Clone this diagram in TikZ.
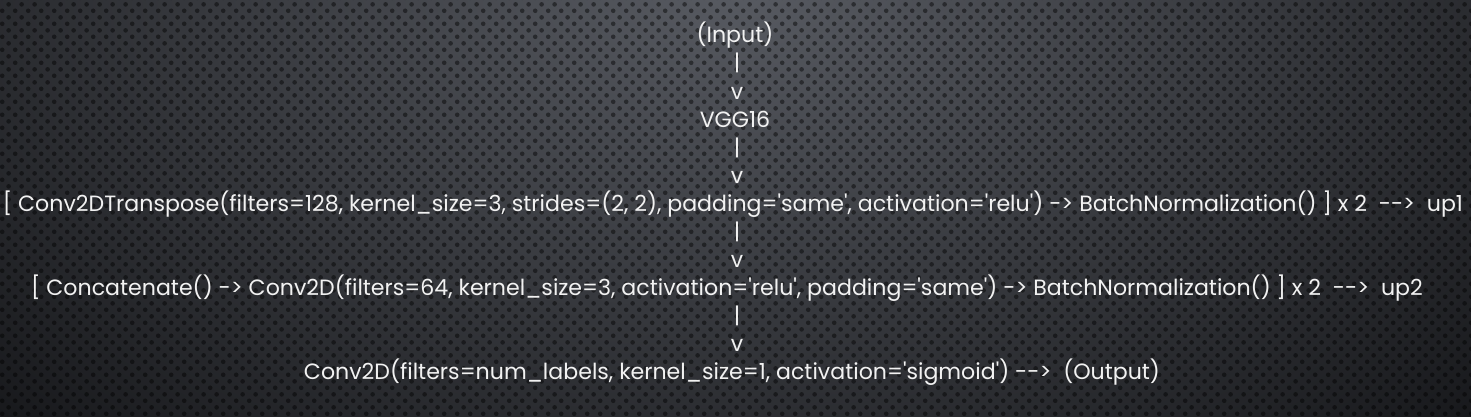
\documentclass[tikz,border=0pt]{standalone}
\usepackage{fontspec}
\setmainfont{Poppins}[Ligatures=TeXOff]
\usetikzlibrary{patterns}
\definecolor{bglight}{HTML}{585B62}
\definecolor{bgdark}{HTML}{16171A}
\definecolor{fgwhite}{HTML}{F2F2F2}
% staggered holes of the grille
\pgfdeclarepatternformonly{holes}{\pgfqpoint{0pt}{0pt}}{\pgfqpoint{13.4pt}{13.4pt}}{\pgfqpoint{13.4pt}{13.4pt}}{%
    \pgfpathcircle{\pgfqpoint{3.35pt}{3.35pt}}{2.4pt}
    \pgfpathcircle{\pgfqpoint{10.05pt}{10.05pt}}{2.4pt}
    \pgfusepath{fill}
}

\begin{document}
\begin{tikzpicture}[
    x=1pt,y=1pt,
    txt/.style={text=fgwhite,font=\fontsize{22.1}{26}\selectfont,inner sep=0pt,anchor=base}
]
    \useasboundingbox (0,0) rectangle (1471,416);
    \begin{scope}
        \clip (0,0) rectangle (1471,416);
        \fill[bgdark] (0,0) rectangle (1471,416);
        \shade[inner color=bglight,outer color=bgdark] (736,430) ellipse (1050 and 640);
        \fill[pattern=holes,pattern color=black,opacity=0.45] (0,0) rectangle (1471,416);
    \end{scope}
    \node[txt] (input) at (735,373) {(Input)};
    \node[txt] (vgg) at (735,289) {VGG16};
    \node[txt] (up1) at (733,205) {[ Conv2DTranspose(filters=128, kernel\_size=3, strides=(2, 2), padding='same', activation='relu') -> BatchNormalization() ] x 2\ \ -->\ \ up1};
    \node[txt] (up2) at (727,121) {[ Concatenate() -> Conv2D(filters=64, kernel\_size=3, activation='relu', padding='same') -> BatchNormalization() ] x 2\ \ -->\ \ up2};
    \node[txt] (out) at (732,37) {Conv2D(filters=num\_labels, kernel\_size=1, activation='sigmoid')\ -->\ \ (Output)};
    \foreach \a in {input,vgg,up1,up2} {
        \node[txt] (bar-\a) at ([xshift=737,yshift=-28]0,0 |- \a.base) {|};
        \node[txt] (v-\a) at ([xshift=737,yshift=-56]0,0 |- \a.base) {v};
    }
\end{tikzpicture}
\end{document}
